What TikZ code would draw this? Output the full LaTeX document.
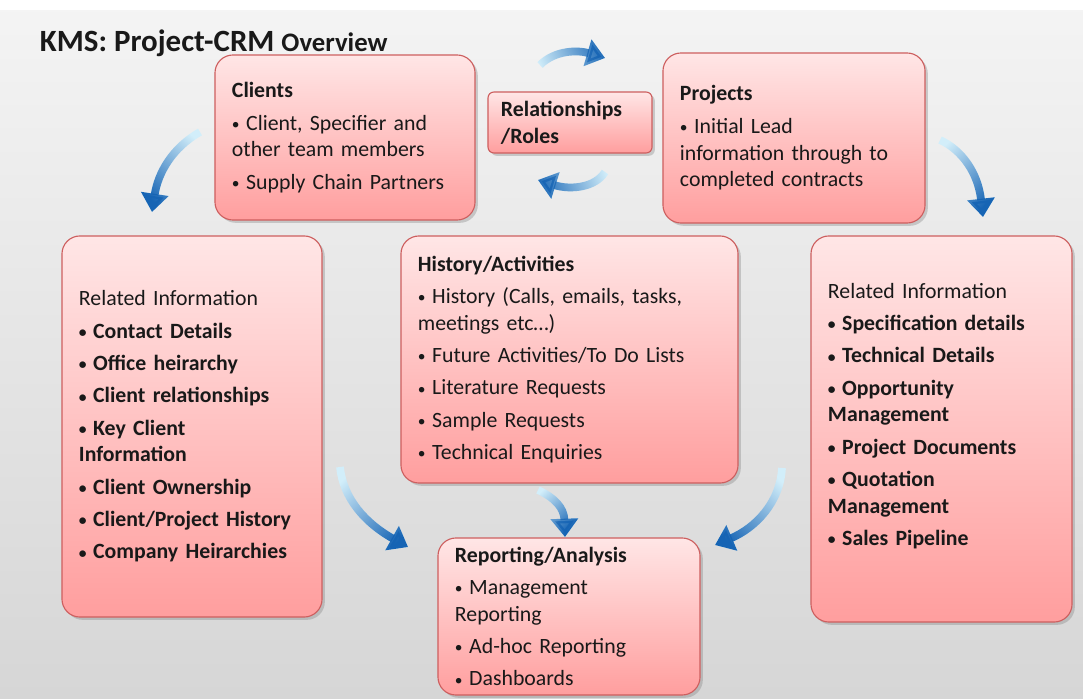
\documentclass[tikz,border=0pt]{standalone}
\usepackage{fontspec}
\setmainfont{Carlito}
\usetikzlibrary{arrows.meta,shadows,fadings}

\definecolor{boxtop}{RGB}{255,230,230}
\definecolor{boxbot}{RGB}{255,158,158}
\definecolor{boxline}{RGB}{205,95,95}
\definecolor{flowdark}{RGB}{22,100,180}
\definecolor{flowlight}{RGB}{210,238,250}
\definecolor{bgtop}{RGB}{244,244,244}
\definecolor{bgbot}{RGB}{214,214,214}

\newcommand\bul{{\fontsize{11}{11}\selectfont\raisebox{0.5pt}{•}}\hspace{0.3em}}

\tikzfading[name=tailfade, left color=transparent!100, right color=transparent!0]

\tikzset{
  card/.style={draw=boxline, line width=0.8pt, rounded corners=0.45cm,
    top color=boxtop, bottom color=boxbot,
    drop shadow={opacity=0.35, shadow xshift=2pt, shadow yshift=-2pt},
    align=left, inner xsep=0.425cm, inner ysep=0pt,
    font=\fontsize{15.5}{19}\selectfont, text=black!90},
  flow/.style={line width=5.5pt, draw=flowlight, -{Triangle[width=19pt,length=13pt]},
    postaction={draw=flowdark, path fading=tailfade, fading angle=#1}},
}

\begin{document}
\begin{tikzpicture}[x=0.025cm, y=0.025cm]
  \useasboundingbox (0,0) rectangle (1083,698);
  % background
  \fill[top color=bgtop, bottom color=bgbot] (0,0) rectangle (1083,698);
  \fill[white] (0,688) rectangle (1083,698);

  \node[anchor=base west, font=\bfseries, text=black!90] (title) at (35,646)
    {\fontsize{22}{26}\selectfont KMS: Project-CRM \fontsize{19}{22}\selectfont Overview};

  % top row
  \node[card, minimum width=6.5cm, minimum height=4.125cm, text width=5.65cm] (clients) at (345,560.5)
    {\textbf{Clients}\\[4pt] \bul Client, Specifier and\\ other team members\\[4pt] \bul Supply Chain Partners};
  \node[card, rounded corners=0.15cm, minimum width=4.1cm, minimum height=1.525cm,
    inner xsep=0.325cm, text width=3.45cm, font=\fontsize{15.5}{19}\selectfont\bfseries] (roles) at (570,575.5)
    {Relationships\\ /Roles};
  \node[card, minimum width=6.55cm, minimum height=4.25cm, text width=5.7cm] (projects) at (794,560)
    {\textbf{Projects}\\[4pt] \bul Initial Lead\\ information through to\\ completed contracts};

  % middle row
  \node[card, minimum width=6.5cm, minimum height=9.525cm, text width=5.65cm,
    font=\fontsize{15.5}{19}\selectfont\bfseries] (leftinfo) at (192,271.5)
    {{\mdseries Related Information}\\[4pt] \bul Contact Details\\[4pt] \bul Office heirarchy\\[4pt]
     \bul Client relationships\\[4pt] \bul Key Client\\ Information\\[4pt] \bul Client Ownership\\[4pt]
     \bul Client/Project History\\[4pt] \bul Company Heirarchies};
  \node[card, minimum width=8.425cm, minimum height=6.175cm, text width=7.575cm] (history) at (569.5,338.5)
    {\textbf{History/Activities}\\[4pt] \bul History (Calls, emails, tasks,\\ meetings etc…)\\[4pt]
     \bul Future Activities/To Do Lists\\[4pt] \bul Literature Requests\\[4pt] \bul Sample Requests\\[4pt]
     \bul Technical Enquiries};
  \node[card, minimum width=6.525cm, minimum height=9.65cm, text width=5.675cm,
    font=\fontsize{15.5}{19}\selectfont\bfseries] (rightinfo) at (941.5,269)
    {{\mdseries Related Information}\\[4pt] \bul Specification details\\[4pt] \bul Technical Details\\[4pt]
     \bul Opportunity\\ Management\\[4pt] \bul Project Documents\\[4pt] \bul Quotation\\ Management\\[4pt]
     \bul Sales Pipeline\\[2pt] \mbox{}};

  % bottom
  \node[card, minimum width=6.55cm, minimum height=3.925cm, text width=5.7cm] (reporting) at (569,81.5)
    {\textbf{Reporting/Analysis}\\[4pt] \bul Management\\ Reporting\\[4pt] \bul Ad-hoc Reporting\\[4pt]
     \bul Dashboards};

  % arrows
  \coordinate (a1s) at (200,566); \coordinate (a1e) at (152,486);
  \coordinate (a2s) at (540,633); \coordinate (a2e) at (605,640);
  \coordinate (a3s) at (605,526); \coordinate (a3e) at (538,518);
  \coordinate (a4s) at (940,558); \coordinate (a4e) at (983,481);
  \coordinate (a5s) at (340,231); \coordinate (a5e) at (408,151);
  \coordinate (a6s) at (538,208); \coordinate (a6e) at (565,161);
  \coordinate (a7s) at (782,230); \coordinate (a7e) at (715,153);

  \draw[flow=239] (a1s) .. controls (172,550) and (158,525) .. (a1e);
  \draw[flow=7] (a2s) .. controls (555,648) and (578,648) .. (a2e);
  \draw[flow=187] (a3s) .. controls (595,510) and (570,508) .. (a3e);
  \draw[flow=-61] (a4s) .. controls (962,548) and (978,525) .. (a4e);
  \draw[flow=-50] (a5s) .. controls (343,200) and (365,175) .. (a5e);
  \draw[flow=-60] (a6s) .. controls (555,200) and (564,190) .. (a6e);
  \draw[flow=229] (a7s) .. controls (780,195) and (755,170) .. (a7e);
\end{tikzpicture}
\end{document}
